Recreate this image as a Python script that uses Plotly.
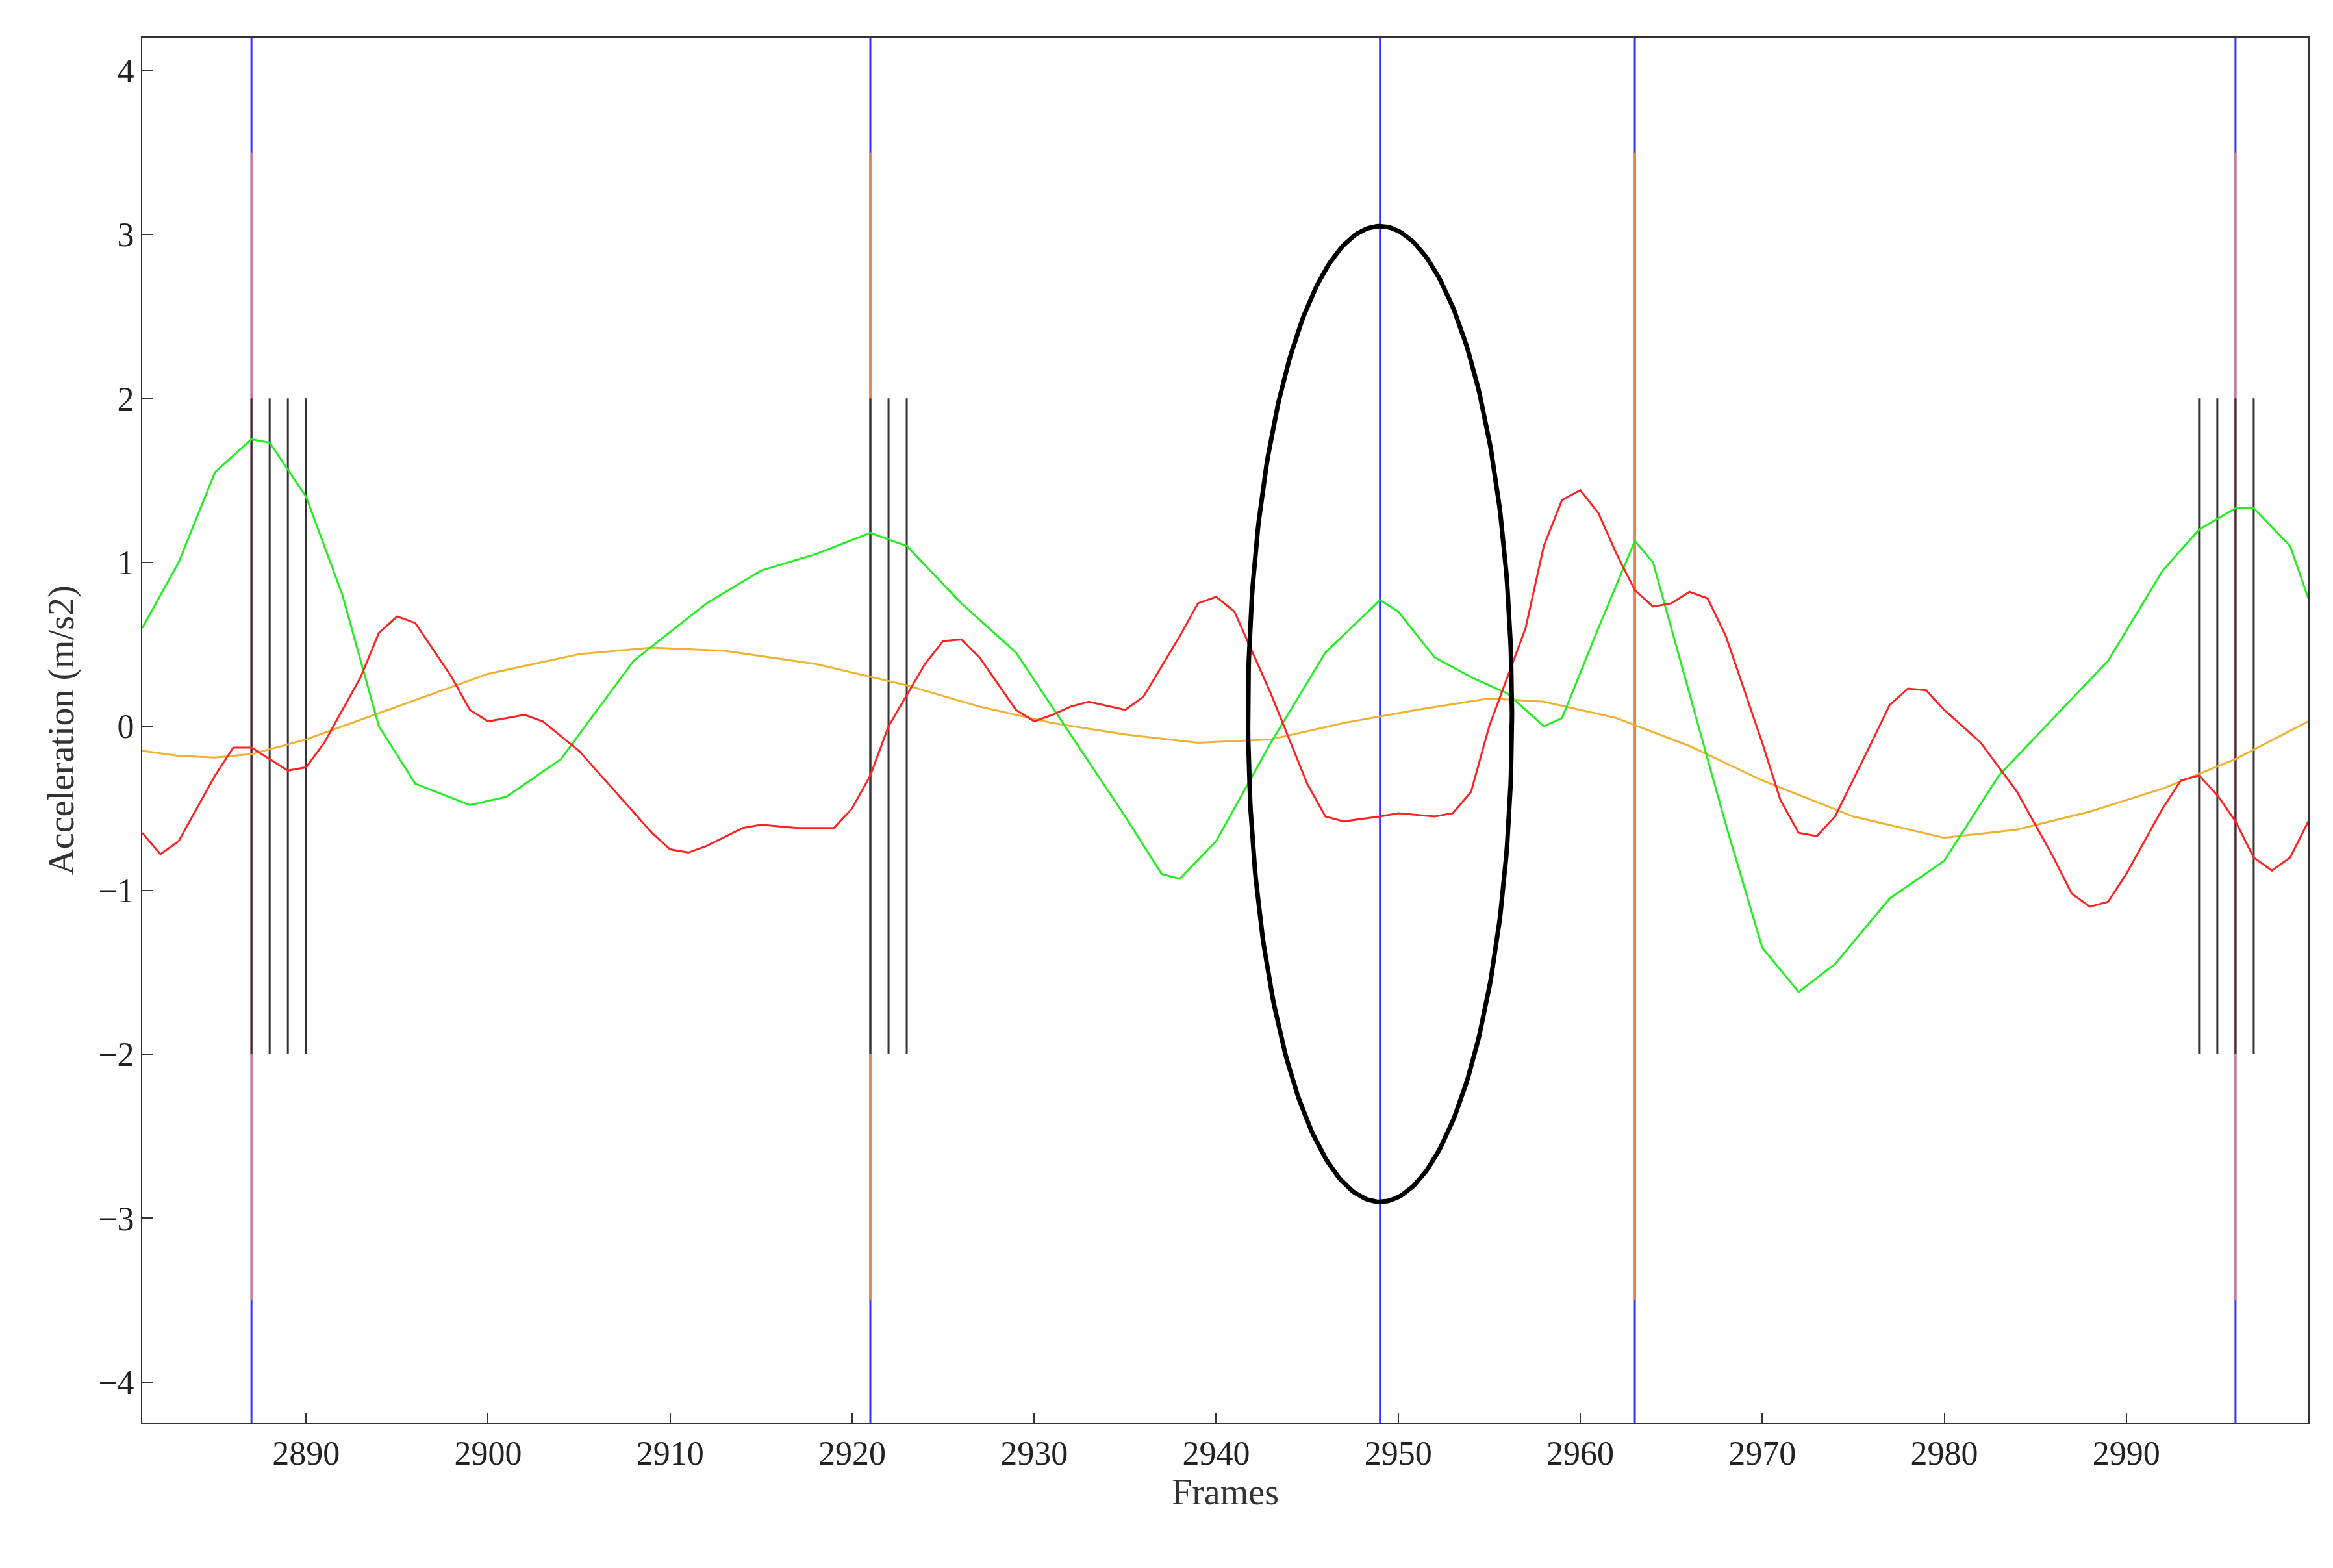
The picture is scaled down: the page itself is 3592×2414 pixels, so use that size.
import numpy as np
import plotly.graph_objects as go

orange_x = [2881,2883,2885,2887,2890,2895,2900,2905,2909,2913,2918,2923,2927,2931,2935,2939,2943,2947,2951,2955,2958,2962,2966,2970,2975,2980,2984,2988,2992,2996,3000]
orange_y = [-0.15,-0.18,-0.19,-0.17,-0.08,0.12,0.32,0.44,0.48,0.46,0.38,0.25,0.12,0.02,-0.05,-0.1,-0.08,0.02,0.1,0.17,0.15,0.05,-0.12,-0.33,-0.55,-0.68,-0.63,-0.52,-0.38,-0.2,0.03]

green_x = [2881,2883,2885,2887,2888,2890,2892,2894,2896,2899,2901,2904,2908,2912,2915,2918,2921,2923,2926,2929,2932,2935,2937,2938,2940,2943,2946,2949,2950,2952,2954,2956,2958,2959,2961,2963,2964,2966,2968,2970,2972,2974,2977,2980,2983,2986,2989,2992,2994,2996,2997,2999,3000]
green_y = [0.6,1.0,1.55,1.75,1.73,1.4,0.8,0.0,-0.35,-0.48,-0.43,-0.2,0.4,0.75,0.95,1.05,1.18,1.1,0.75,0.45,-0.05,-0.55,-0.9,-0.93,-0.7,-0.1,0.45,0.77,0.7,0.42,0.3,0.2,0.0,0.05,0.6,1.13,1.0,0.2,-0.6,-1.35,-1.62,-1.45,-1.05,-0.82,-0.3,0.05,0.4,0.95,1.2,1.33,1.33,1.1,0.78]

red_x = [2881,2882,2883,2885,2886,2887,2889,2890,2891,2893,2894,2895,2896,2898,2899,2900,2902,2903,2905,2907,2909,2910,2911,2912,2914,2915,2917,2919,2920,2921,2922,2924,2925,2926,2927,2929,2930,2931,2932,2933,2935,2936,2938,2939,2940,2941,2943,2945,2946,2947,2949,2950,2952,2953,2954,2955,2957,2958,2959,2960,2961,2962,2963,2964,2965,2966,2967,2968,2970,2971,2972,2973,2974,2976,2977,2978,2979,2980,2982,2984,2986,2987,2988,2989,2990,2992,2993,2994,2995,2996,2997,2998,2999,3000]
red_y = [-0.65,-0.78,-0.7,-0.3,-0.13,-0.13,-0.27,-0.25,-0.1,0.3,0.57,0.67,0.63,0.3,0.1,0.03,0.07,0.03,-0.15,-0.4,-0.65,-0.75,-0.77,-0.73,-0.62,-0.6,-0.62,-0.62,-0.5,-0.3,0.0,0.38,0.52,0.53,0.42,0.1,0.03,0.07,0.12,0.15,0.1,0.18,0.55,0.75,0.79,0.7,0.2,-0.35,-0.55,-0.58,-0.55,-0.53,-0.55,-0.53,-0.4,0.0,0.6,1.1,1.38,1.44,1.3,1.05,0.83,0.73,0.75,0.82,0.78,0.55,-0.1,-0.45,-0.65,-0.67,-0.55,-0.1,0.13,0.23,0.22,0.1,-0.1,-0.4,-0.8,-1.02,-1.1,-1.07,-0.9,-0.5,-0.33,-0.3,-0.42,-0.58,-0.8,-0.88,-0.8,-0.58]

blue_frames = [2887, 2921, 2949, 2963, 2996]
orange_frames = [2887, 2921, 2963, 2996]
black_frames = [2887, 2888, 2889, 2890, 2921, 2922, 2923, 2994, 2995, 2996, 2997]
ellipse_center = (2949, 0.075)
ellipse_radius = (7.25, 2.975)

YMIN, YMAX = -4.25, 4.2
fig = go.Figure()

def vlines(xs, y0, y1, color):
    X, Y = [], []
    for x in xs:
        X += [x, x, None]; Y += [y0, y1, None]
    fig.add_trace(go.Scatter(x=X, y=Y, mode="lines", line=dict(color=color, width=3), showlegend=False, hoverinfo="skip"))

vlines(blue_frames, YMIN, YMAX, "#3333ff")
vlines(orange_frames, -3.5, 3.5, "#f08050")
vlines(black_frames, -2, 2, "#333333")

fig.add_trace(go.Scatter(x=orange_x, y=orange_y, mode="lines", line=dict(color="#f0b030", width=3), showlegend=False))
fig.add_trace(go.Scatter(x=green_x, y=green_y, mode="lines", line=dict(color="#22ee22", width=3), showlegend=False))
fig.add_trace(go.Scatter(x=red_x, y=red_y, mode="lines", line=dict(color="#ff2222", width=3), showlegend=False))

t = np.linspace(0, 2*np.pi, 300)
fig.add_trace(go.Scatter(x=ellipse_center[0] + ellipse_radius[0]*np.cos(t),
                         y=ellipse_center[1] + ellipse_radius[1]*np.sin(t),
                         mode="lines", line=dict(color="black", width=7), showlegend=False))

axis_common = dict(showgrid=False, zeroline=False, showline=True, linecolor="#333", linewidth=2,
                   mirror=True, ticks="inside", ticklen=16, tickcolor="#333", tickwidth=2,
                   tickfont=dict(family="Liberation Serif", size=52, color="#222"))
fig.update_xaxes(range=[2881, 3000], tickvals=list(range(2890, 3000, 10)),
                 title=dict(text="Frames", font=dict(family="Liberation Serif", size=56, color="#333"), standoff=10), **axis_common)
fig.update_yaxes(range=[YMIN, YMAX], tickvals=list(range(-4, 5)), tickformat="d",
                 title=dict(text="Acceleration (m/s2)", font=dict(family="Liberation Serif", size=56, color="#333"), standoff=20), **axis_common)
fig.update_layout(width=3592, height=2414, plot_bgcolor="white", paper_bgcolor="white",
                  margin=dict(l=211, r=46, t=50, b=231))
fig.write_html("out.html")
